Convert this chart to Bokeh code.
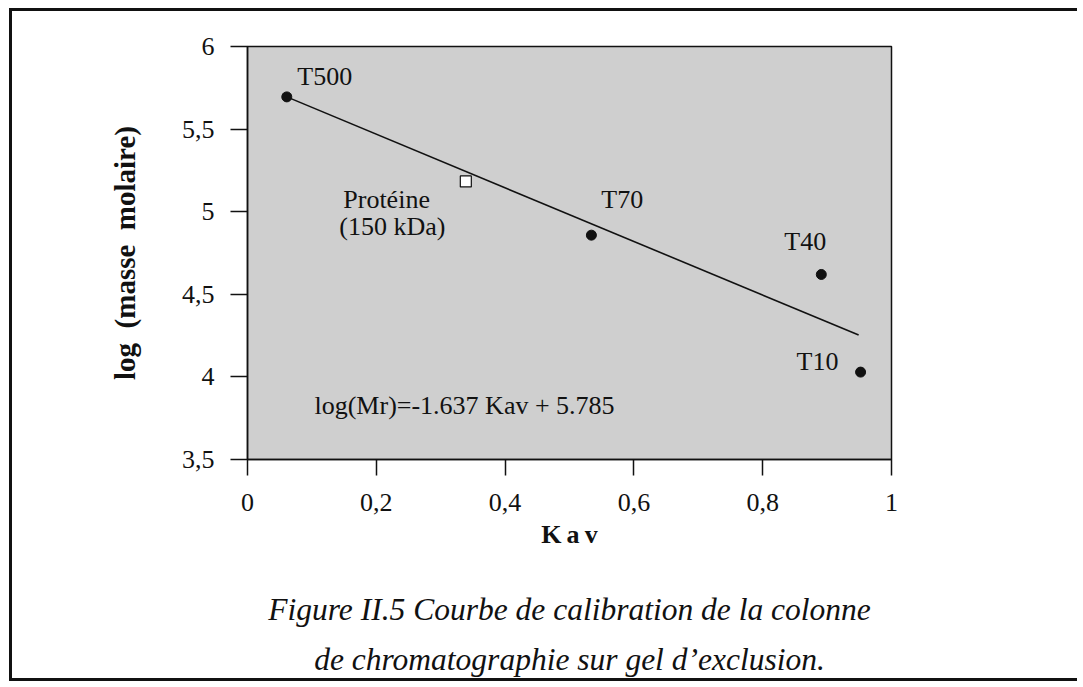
from bokeh.plotting import figure
from bokeh.models import FixedTicker, Title, ColumnDataSource
from bokeh.core.properties import value
from bokeh.embed import file_html
from bokeh.resources import INLINE

# ---- data ----
standards = ["T500", "T70", "T40", "T10"]
std_kav = [0.061, 0.534, 0.891, 0.952]
std_logmr = [5.695, 4.858, 4.620, 4.029]

protein_name = "Protéine (150 kDa)"
protein_kav = [0.339]
protein_logmr = [5.183]

fit_kav = [0.061, 0.949]
fit_logmr = [5.695, 4.253]

x_ticks = [0, 0.2, 0.4, 0.6, 0.8, 1]
x_tick_labels = ["0", "0,2", "0,4", "0,6", "0,8", "1"]
y_ticks = [3.5, 4, 4.5, 5, 5.5, 6]
y_tick_labels = ["3,5", "4", "4,5", "5", "5,5", "6"]

equation_text = "log(Mr)=-1.637 Kav + 5.785"
caption_lines = ["Figure II.5 Courbe de calibration de la colonne",
                 "de chromatographie sur gel d\u2019exclusion."]

# label placement (annotation layout)
label_texts = ["T500", "T70", "T40", "T10", "Protéine", "(150 kDa)", equation_text]
label_x = [0.120, 0.582, 0.866, 0.885, 0.216, 0.225, 0.337]
label_y = [5.82, 5.075, 4.822, 4.095, 5.075, 4.912, 3.825]

SERIF = "Liberation Serif"
INK = "#111111"

W, H = 1068, 673
p = figure(width=W, height=H, x_range=(0, 1), y_range=(3.5, 6),
           output_backend="svg", toolbar_location=None,
           min_border_left=235, min_border_right=189,
           min_border_top=35, min_border_bottom=225)
p.styles = {"margin-left": "9px", "margin-top": "8px",
            "border-left": "3px solid #111111",
            "border-top": "3px solid #111111",
            "border-bottom": "3px solid #111111"}

p.background_fill_color = "#cfcfcf"
p.border_fill_color = "white"
p.outline_line_color = INK
p.outline_line_width = 1.5
p.grid.visible = False

for ax in (p.xaxis[0], p.yaxis[0]):
    ax.axis_line_color = INK
    ax.axis_line_width = 1.5
    ax.major_tick_line_color = INK
    ax.major_tick_line_width = 1.5
    ax.major_tick_in = 0
    ax.minor_tick_line_color = None
    ax.major_label_text_font = SERIF
    ax.major_label_text_font_size = "26px"
    ax.major_label_text_color = INK
    ax.axis_label_text_font = SERIF
    ax.axis_label_text_font_style = "bold"
    ax.axis_label_text_color = INK

p.xaxis.ticker = FixedTicker(ticks=x_ticks)
p.xaxis.major_label_overrides = dict(zip(x_ticks, x_tick_labels))
p.xaxis.major_tick_out = 16
p.xaxis.major_label_standoff = 18
p.xaxis.axis_label = "K\u2009a\u2009v"
p.xaxis.axis_label_standoff = 6
p.xaxis.axis_label_text_font_size = "26px"

p.yaxis.ticker = FixedTicker(ticks=y_ticks)
p.yaxis.major_label_overrides = dict(zip(y_ticks, y_tick_labels))
p.yaxis.major_tick_out = 17
p.yaxis.major_label_standoff = 16
p.yaxis.axis_label = "log\u00a0 (masse\u00a0 molaire)"
p.yaxis.axis_label_standoff = 38
p.yaxis.axis_label_text_font_size = "29px"

# regression line
p.line(fit_kav, fit_logmr, line_color=INK, line_width=1.6)

# standards
p.scatter(std_kav, std_logmr, marker="circle", size=10,
          fill_color=INK, line_color=INK)
# protein
p.scatter(protein_kav, protein_logmr, marker="square", size=11,
          fill_color="white", line_color=INK, line_width=1.2)

src = ColumnDataSource(dict(x=label_x, y=label_y, t=label_texts))
p.text("x", "y", text="t", source=src, text_font=value(SERIF),
       text_font_size="26px", text_align="center", text_baseline="middle",
       text_color=INK)

# spacer between axis and caption
p.add_layout(Title(text="\u00a0", text_font_size="10px", standoff=13), "below")
# caption (two lines below the axis)
for txt, so in zip(caption_lines, [25, 1]):
    p.add_layout(Title(text=txt, align="center", text_font=SERIF,
                       text_font_style="italic", text_font_size="31.5px",
                       text_color=INK, standoff=so),
                 "below")

open("out.html", "w").write(file_html(p, INLINE))
